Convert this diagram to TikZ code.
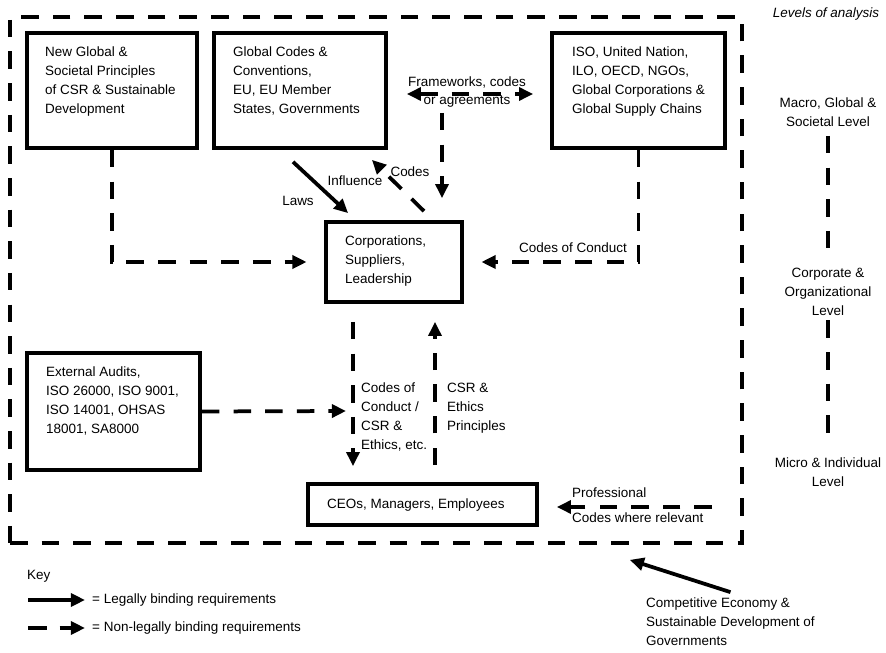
\documentclass[tikz,border=0pt]{standalone}
\usepackage{fontspec}
\setmainfont{Liberation Sans}
\usetikzlibrary{arrows.meta,fit}

\tikzset{
  box/.style={draw, line width=3.2pt, inner sep=0pt},
  txt/.style={inner sep=0pt, align=left, font=\fontsize{11.5}{16}\selectfont},
  dashline/.style={line width=3.2pt, dash pattern=on 15pt off 12pt},
  law/.style={line width=3.2pt, -{Triangle[length=12pt,width=11pt]}},
  nonlaw/.style={dashline, -{Triangle[length=12pt,width=11pt]}},
}

\begin{document}
\begin{tikzpicture}[x=0.03cm, y=-0.03cm]
\useasboundingbox (0,0) rectangle (886,653);

\node[dashline, draw, inner sep=0pt, fit={(10,17) (742,543)}] (frame) {};

\node[box, fit={(27,33) (197,148)}] (gp) {};
\node[box, fit={(214,33) (386,148)}] (codes) {};
\node[box, fit={(552,33) (725,148)}] (iso) {};
\node[box, fit={(326,222) (462,302)}] (corp) {};
\node[box, fit={(27,353) (200,470)}] (audit) {};
\node[box, fit={(308,484) (537,525)}] (ceo) {};

\node[txt, anchor=north west] (gptext) at (45,47) {New Global \&\\Societal Principles\\of CSR \& Sustainable\\Development};
\node[txt, anchor=north west] (codestext) at (233,47) {Global Codes \&\\Conventions,\\EU, EU Member\\States, Governments};
\node[txt, anchor=north west] (isotext) at (572,47) {ISO, United Nation,\\ILO, OECD, NGOs,\\Global Corporations \&\\Global Supply Chains};
\node[txt, anchor=north west] (corptext) at (345,236) {Corporations,\\Suppliers,\\Leadership};
\node[txt, anchor=north west] (audittext) at (46,367) {External Audits,\\ISO 26000, ISO 9001,\\ISO 14001, OHSAS\\18001, SA8000};
\node[txt, anchor=west] (ceotext) at (327,505) {CEOs, Managers, Employees};

\node[txt] (laws) at (298,201) {Laws};
\node[txt] (infl) at (355,181) {Influence};
\node[txt] (codeslbl) at (410,172) {Codes};
\node[txt, align=center] (fw) at (467,92) {Frameworks, codes\\or agreements};
\node[txt] (cocl) at (573,248) {Codes of Conduct};
\node[txt, anchor=west] (cocd) at (361,417) {Codes of\\Conduct /\\CSR \&\\Ethics, etc.};
\node[txt, anchor=west] (csrp) at (447,408) {CSR \&\\Ethics\\Principles};
\node[txt, anchor=west] (prof) at (572,493) {Professional};
\node[txt, anchor=west] (profb) at (572,518) {Codes where relevant};

\draw[nonlaw, shorten >=15pt] (gp.south) |- (corp.west);
\draw[nonlaw, shorten >=15pt] (iso.south) |- (corp.east);
\draw[law] ([shift={(-7,12)}]codes.south) -- ([shift={(24,-7)}]corp.north west);
\draw[nonlaw] ([shift={(30,-9)}]corp.north) -- ([shift={(-16,10)}]codes.south east);
\draw[nonlaw, {Triangle[length=12pt,width=11pt]}-{Triangle[length=12pt,width=11pt]}] ([shift={(19,3.5)}]codes.east) -- ([shift={(-17,3.5)}]iso.west);
\draw[nonlaw] ([shift={(-25,5)}]fw.south) -- ([shift={(48,-22)}]corp.north);
\draw[nonlaw] ([shift={(-41,18)}]corp.south) -- ([shift={(-69.5,-16)}]ceo.north);
\draw[nonlaw] ([shift={(12.5,-17)}]ceo.north) -- ([shift={(41,18)}]corp.south);
\coordinate (auditend) at (346,411);
\draw[nonlaw] (audit.east) -- (auditend);
\coordinate (profstart) at (712,507);
\draw[nonlaw] (profstart) -- ([shift={(18,2.5)}]ceo.east);

\node[txt, font=\fontsize{11.5}{16}\selectfont\itshape] (levels) at (826,14) {Levels of analysis};
\node[txt, align=center] (macro) at (828,112) {Macro, Global \&\\Societal Level};
\node[txt, align=center] (orglevel) at (828,292) {Corporate \&\\Organizational\\Level};
\node[txt, align=center] (micro) at (828,472) {Micro \& Individual\\Level};
\draw[dashline, shorten <=8pt, shorten >=12pt] (macro.south) -- (orglevel.north);
\draw[dashline, shorten <=4pt, shorten >=15pt] (orglevel.south) -- (micro.north);

\node[txt, anchor=north west] (comp) at (646,598) {Competitive Economy \&\\Sustainable Development of\\Governments};
\draw[law] ([yshift=5pt]comp.north) -- ([shift={(-114,15)}]frame.south east);

\node[txt, anchor=west] (key) at (27,576) {Key};
\coordinate (legala) at (28,600);
\coordinate (legalb) at (85,600);
\draw[law] (legala) -- (legalb);
\node[txt, anchor=west] (legal) at (92,600) {= Legally binding requirements};
\coordinate (nonlegala) at (28,628);
\coordinate (nonlegalb) at (85,628);
\draw[nonlaw, dash pattern=on 16pt off 11pt] (nonlegala) -- (nonlegalb);
\node[txt, anchor=west] (nonlegal) at (92,628) {= Non-legally binding requirements};
\end{tikzpicture}
\end{document}
